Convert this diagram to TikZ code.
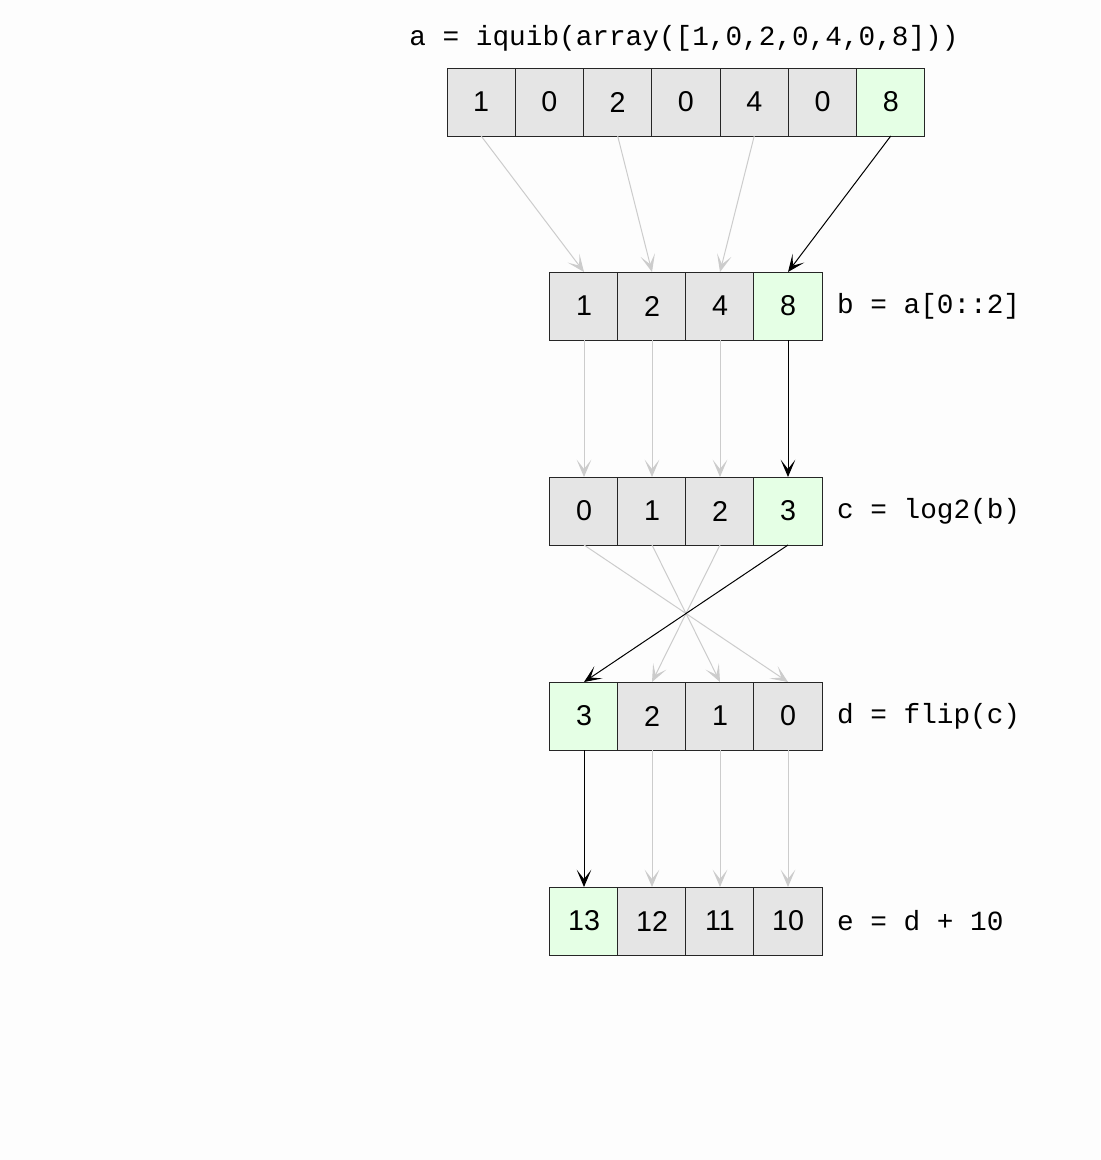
\documentclass[tikz,border=0pt]{standalone}
\usepackage{fontspec}
\usetikzlibrary{positioning,arrows.meta}
\newfontfamily\codefont{Liberation Mono}
\newfontfamily\numfont{Liberation Sans}
\definecolor{bgwhite}{RGB}{253,253,253}

\begin{document}
\begin{tikzpicture}[x=0.75pt, y=-0.75pt,
        cell/.style={draw=black!85, fill=black!10, line width=0.6pt, minimum width=51.2pt,
                minimum height=51pt, inner sep=0pt, outer sep=0pt, font=\numfont\fontsize{21.5}{24}\selectfont},
        hot/.style={fill=green!10},
        code/.style={inner sep=0pt, font=\codefont\fontsize{20.8}{24}\selectfont},
        dep/.style={draw=black!20, line width=0.75pt, -{Stealth[length=13pt, width=11pt, inset=7pt]}},
        key/.style={dep, draw=black}]
        \fill[bgwhite] (0,0) rectangle (1100,1160);
        \useasboundingbox (0,0) rectangle (1100,1160);

        % the source array
        \node[cell] (a0) at (481.15,102) {1};
        \foreach \v [count=\i, evaluate=\i as \j using int(\i-1)] in {0,2,0,4,0} {
                \node[cell, right=0pt of a\j] (a\i) {\v};
        }
        \node[cell, hot, right=0pt of a5] (a6) {8};
        \node[code] (alabel) at (684,38) {a = iquib(array([1,0,2,0,4,0,8]))};

        % the four derived arrays
        \foreach \n/\y/\vals/\hi in {b/306/{1,2,4,8}/3, c/511/{0,1,2,3}/3, d/716/{3,2,1,0}/0, e/921/{13,12,11,10}/0} {
                \foreach \v [count=\i from 0] in \vals {
                        \ifnum\i=\hi
                                \node[cell, hot] (\n\i) at (584+68*\i,\y) {\v};
                        \else
                                \node[cell] (\n\i) at (584+68*\i,\y) {\v};
                        \fi
                }
        }
        \node[code, right=11pt of b3] (blabel) {b = a[0::2]};
        \node[code, right=11pt of c3] (clabel) {c = log2(b)};
        \node[code, right=11pt of d3] (dlabel) {d = flip(c)};
        \node[code, right=11pt of e3] (elabel) {e = d + 10};

        % a -> b
        \draw[dep] (a0.south) -- (b0.north);
        \draw[dep] (a2.south) -- (b1.north);
        \draw[dep] (a4.south) -- (b2.north);
        \draw[key] (a6.south) -- (b3.north);
        % b -> c
        \foreach \i in {0,1,2} \draw[dep] (b\i.south) -- (c\i.north);
        \draw[key] (b3.south) -- (c3.north);
        % c -> d
        \draw[dep] (c0.south) -- (d3.north);
        \draw[dep] (c1.south) -- (d2.north);
        \draw[dep] (c2.south) -- (d1.north);
        \draw[key] (c3.south) -- (d0.north);
        % d -> e
        \draw[key] (d0.south) -- (e0.north);
        \foreach \i in {1,2,3} \draw[dep] (d\i.south) -- (e\i.north);
\end{tikzpicture}
\end{document}
